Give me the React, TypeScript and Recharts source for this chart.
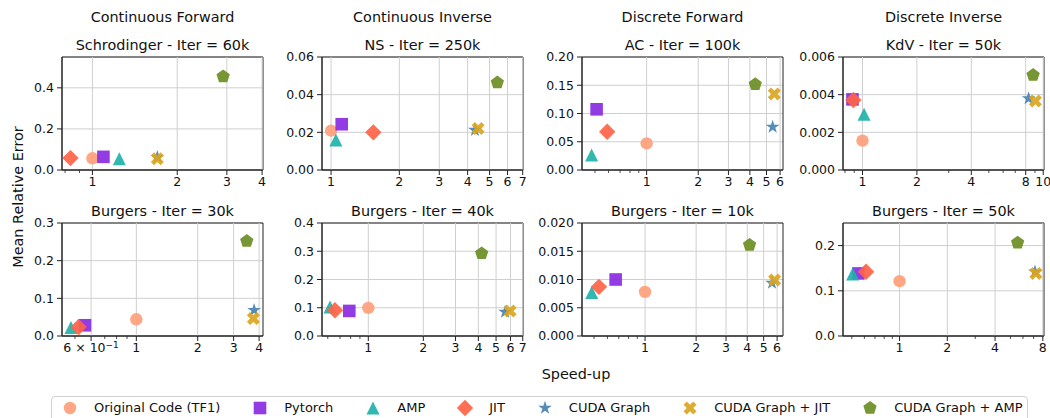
import React from "react";
import {
  ScatterChart,
  Scatter,
  XAxis,
  YAxis,
  CartesianGrid,
  ReferenceLine,
  ReferenceArea,
} from "recharts";

const FONT = "'DejaVu Sans', 'Liberation Sans', sans-serif";
const TEXT = "#111";
const AXIS = "#222";
const GRID = "#cfcfcf";

// ---- series meta (order = draw order) ----
const methods = [
  "Original Code (TF1)",
  "Pytorch",
  "AMP",
  "JIT",
  "CUDA Graph",
  "CUDA Graph + JIT",
  "CUDA Graph + AMP",
];
const methodColors = ["#FFA07A", "#8A2BE2", "#20B2AA", "#FF6347", "#4682B4", "#DAA520", "#6B8E23"];
const methodMarkers = ["circle", "square", "triangle", "diamond", "star", "x", "pentagon"];

const columnTitles = ["Continuous Forward", "Continuous Inverse", "Discrete Forward", "Discrete Inverse"];

// ---- Schrodinger - Iter = 60k ----
const schrodingerSpeedup = [1.0, 1.094, 1.246, 0.836, 1.7, 1.7, 2.91];
const schrodingerError = [0.057, 0.064, 0.055, 0.058, 0.062, 0.055, 0.455];
const schrodingerXDomain = [0.78, 4.03];
const schrodingerXTicks = [1, 2, 3, 4];
const schrodingerXTickLabels = ["1", "2", "3", "4"];
const schrodingerXMinor = [0.8, 0.9];
const schrodingerYDomain = [0, 0.55];
const schrodingerYTicks = [0, 0.2, 0.4];

// ---- NS - Iter = 250k ----
const nsSpeedup = [1.0, 1.114, 1.05, 1.536, 4.31, 4.45, 5.41];
const nsError = [0.0209, 0.0243, 0.0159, 0.02, 0.0212, 0.0221, 0.0464];
const nsXDomain = [0.912, 7.02];
const nsXTicks = [1, 2, 3, 4, 5, 6, 7];
const nsXTickLabels = ["1", "2", "3", "4", "5", "6", "7"];
const nsXMinor: number[] = [];
const nsYDomain = [0, 0.06];
const nsYTicks = [0, 0.02, 0.04, 0.06];

// ---- AC - Iter = 100k ----
const acSpeedup = [1.0, 0.511, 0.478, 0.589, 5.43, 5.55, 4.3];
const acError = [0.0472, 0.1074, 0.0265, 0.0678, 0.0761, 0.1345, 0.1517];
const acXDomain = [0.42, 6.24];
const acXTicks = [1, 2, 3, 4, 5, 6];
const acXTickLabels = ["1", "2", "3", "4", "5", "6"];
const acXMinor = [0.5, 0.6, 0.7, 0.8, 0.9];
const acYDomain = [0, 0.2];
const acYTicks = [0, 0.05, 0.1, 0.15, 0.2];

// ---- KdV - Iter = 50k ----
const kdvSpeedup = [1.0, 0.88, 1.02, 0.89, 8.3, 9.05, 8.79];
const kdvError = [0.00156, 0.00375, 0.00296, 0.00372, 0.0038, 0.00366, 0.00504];
const kdvXDomain = [0.78, 10.1];
const kdvXTicks = [1, 2, 4, 8, 10];
const kdvXTickLabels = ["1", "2", "4", "8", "10"];
const kdvXMinor = [0.8, 0.9, 3, 5, 6, 7, 9];
const kdvYDomain = [0, 0.006];
const kdvYTicks = [0, 0.002, 0.004, 0.006];

// ---- Burgers - Iter = 30k ----
const burgers30Speedup = [1.0, 0.56, 0.478, 0.521, 3.78, 3.75, 3.48];
const burgers30Error = [0.0444, 0.0285, 0.0224, 0.024, 0.0684, 0.0463, 0.252];
const burgers30XDomain = [0.432, 4.18];
const burgers30XTicks = [0.6, 1, 2, 3, 4];
const burgers30XTickLabels = ["6 × 10^−1", "1", "2", "3", "4"];
const burgers30XMinor = [0.5, 0.7, 0.8, 0.9];
const burgers30YDomain = [0, 0.3];
const burgers30YTicks = [0, 0.1, 0.2, 0.3];

// ---- Burgers - Iter = 40k ----
const burgers40Speedup = [1.0, 0.787, 0.617, 0.657, 5.6, 5.97, 4.17];
const burgers40Error = [0.0994, 0.0887, 0.103, 0.0912, 0.085, 0.0887, 0.2924];
const burgers40XDomain = [0.558, 7.02];
const burgers40XTicks = [1, 2, 3, 4, 5, 6, 7];
const burgers40XTickLabels = ["1", "2", "3", "4", "5", "6", "7"];
const burgers40XMinor = [0.6, 0.7, 0.8, 0.9];
const burgers40YDomain = [0, 0.4];
const burgers40YTicks = [0, 0.1, 0.2, 0.3, 0.4];

// ---- Burgers - Iter = 10k ----
const burgers10Speedup = [1.0, 0.671, 0.485, 0.535, 5.6, 5.8, 4.13];
const burgers10Error = [0.00781, 0.01, 0.0077, 0.0087, 0.0094, 0.0099, 0.0161];
const burgers10XDomain = [0.425, 6.5];
const burgers10XTicks = [1, 2, 3, 4, 5, 6];
const burgers10XTickLabels = ["1", "2", "3", "4", "5", "6"];
const burgers10XMinor = [0.5, 0.6, 0.7, 0.8, 0.9];
const burgers10YDomain = [0, 0.02];
const burgers10YTicks = [0, 0.005, 0.01, 0.015, 0.02];

// ---- Burgers - Iter = 50k ----
const burgers50Speedup = [1.0, 0.55, 0.506, 0.615, 7.14, 7.24, 5.55];
const burgers50Error = [0.1213, 0.1384, 0.1369, 0.142, 0.142, 0.138, 0.2063];
const burgers50XDomain = [0.44, 8.14];
const burgers50XTicks = [1, 2, 4, 8];
const burgers50XTickLabels = ["1", "2", "4", "8"];
const burgers50XMinor = [0.5, 0.6, 0.7, 0.8, 0.9, 3, 5, 6, 7];
const burgers50YDomain = [0, 0.25];
const burgers50YTicks = [0, 0.1, 0.2];

// ---- layout ----
const colLeft = [62, 322, 582, 843];
const rowTop = [57, 223];
const PLOT_W = 201;
const PLOT_H = 113;
const M_TOP = 10;

const panels = [
  { row: 0, col: 0, title: "Schrodinger - Iter = 60k", sx: schrodingerSpeedup, sy: schrodingerError, xd: schrodingerXDomain, xt: schrodingerXTicks, xl: schrodingerXTickLabels, xm: schrodingerXMinor, yd: schrodingerYDomain, yt: schrodingerYTicks, dec: 1 },
  { row: 0, col: 1, title: "NS - Iter = 250k", sx: nsSpeedup, sy: nsError, xd: nsXDomain, xt: nsXTicks, xl: nsXTickLabels, xm: nsXMinor, yd: nsYDomain, yt: nsYTicks, dec: 2 },
  { row: 0, col: 2, title: "AC - Iter = 100k", sx: acSpeedup, sy: acError, xd: acXDomain, xt: acXTicks, xl: acXTickLabels, xm: acXMinor, yd: acYDomain, yt: acYTicks, dec: 2 },
  { row: 0, col: 3, title: "KdV - Iter = 50k", sx: kdvSpeedup, sy: kdvError, xd: kdvXDomain, xt: kdvXTicks, xl: kdvXTickLabels, xm: kdvXMinor, yd: kdvYDomain, yt: kdvYTicks, dec: 3 },
  { row: 1, col: 0, title: "Burgers - Iter = 30k", sx: burgers30Speedup, sy: burgers30Error, xd: burgers30XDomain, xt: burgers30XTicks, xl: burgers30XTickLabels, xm: burgers30XMinor, yd: burgers30YDomain, yt: burgers30YTicks, dec: 1 },
  { row: 1, col: 1, title: "Burgers - Iter = 40k", sx: burgers40Speedup, sy: burgers40Error, xd: burgers40XDomain, xt: burgers40XTicks, xl: burgers40XTickLabels, xm: burgers40XMinor, yd: burgers40YDomain, yt: burgers40YTicks, dec: 1 },
  { row: 1, col: 2, title: "Burgers - Iter = 10k", sx: burgers10Speedup, sy: burgers10Error, xd: burgers10XDomain, xt: burgers10XTicks, xl: burgers10XTickLabels, xm: burgers10XMinor, yd: burgers10YDomain, yt: burgers10YTicks, dec: 3 },
  { row: 1, col: 3, title: "Burgers - Iter = 50k", sx: burgers50Speedup, sy: burgers50Error, xd: burgers50XDomain, xt: burgers50XTicks, xl: burgers50XTickLabels, xm: burgers50XMinor, yd: burgers50YDomain, yt: burgers50YTicks, dec: 1 },
];

// ---- marker shapes ----
function markerPath(kind: string, cx: number, cy: number): string {
  switch (kind) {
    case "circle": {
      const r = 6.2;
      return `M${cx - r},${cy} a${r},${r} 0 1,0 ${2 * r},0 a${r},${r} 0 1,0 ${-2 * r},0 Z`;
    }
    case "square": {
      const h = 6.3;
      return `M${cx - h},${cy - h} L${cx + h},${cy - h} L${cx + h},${cy + h} L${cx - h},${cy + h} Z`;
    }
    case "triangle": {
      const h = 6.5;
      return `M${cx},${cy - h} L${cx + h},${cy + h} L${cx - h},${cy + h} Z`;
    }
    case "diamond": {
      const d = 8.2;
      return `M${cx},${cy - d} L${cx + d},${cy} L${cx},${cy + d} L${cx - d},${cy} Z`;
    }
    case "star": {
      const R = 7.2;
      const r = R * 0.381966;
      let s = "";
      for (let i = 0; i < 10; i++) {
        const rad = i % 2 === 0 ? R : r;
        const a = -Math.PI / 2 + (i * Math.PI) / 5;
        s += `${i === 0 ? "M" : "L"}${cx + rad * Math.cos(a)},${cy + rad * Math.sin(a)} `;
      }
      return s + "Z";
    }
    case "x": {
      const S = 13;
      const pts = [
        [-0.25, -0.5], [0, -0.25], [0.25, -0.5], [0.5, -0.25], [0.25, 0], [0.5, 0.25],
        [0.25, 0.5], [0, 0.25], [-0.25, 0.5], [-0.5, 0.25], [-0.25, 0], [-0.5, -0.25],
      ];
      return pts.map((p, i) => `${i === 0 ? "M" : "L"}${cx + p[0] * S},${cy + p[1] * S}`).join(" ") + " Z";
    }
    case "pentagon": {
      const R = 7;
      let s = "";
      for (let i = 0; i < 5; i++) {
        const a = -Math.PI / 2 + (i * 2 * Math.PI) / 5;
        s += `${i === 0 ? "M" : "L"}${cx + R * Math.cos(a)},${cy + R * Math.sin(a)} `;
      }
      return s + "Z";
    }
  }
  return "";
}

const makeShape = (kind: string, color: string) => (props: any) => {
  const { cx, cy } = props;
  if (cx == null || cy == null) return <g />;
  return <path d={markerPath(kind, cx, cy)} fill={color} fillOpacity={0.92} />;
};

const makeXTick = (labeled: number[], labels: string[]) => (props: any) => {
  const { x, y, payload } = props;
  const v = payload.value;
  const idx = labeled.findIndex((t) => Math.abs(t - v) < 1e-9);
  const major = idx >= 0;
  const label = major ? labels[idx] : "";
  let content: React.ReactNode = label;
  if (label.includes("^")) {
    const [base, exp] = label.split("^");
    content = (
      <>
        {base}
        <tspan dy="-0.5em" fontSize={9}>{exp}</tspan>
      </>
    );
  }
  return (
    <g>
      <line x1={x} x2={x} y1={y} y2={y + (major ? 5 : 3)} stroke={AXIS} strokeWidth={major ? 1 : 0.8} />
      {major && (
        <text x={x} y={y + 7} dy="0.75em" textAnchor="middle" fontSize={12.5} fill={TEXT} fontFamily={FONT}>
          {content}
        </text>
      )}
    </g>
  );
};

function Panel({ p }: { p: any }) {
  const left = colLeft[p.col];
  const top = rowTop[p.row];
  return (
    <div style={{ position: "absolute", left: left - 60, top: top - M_TOP }}>
      <ScatterChart
        width={PLOT_W + 60 + 10}
        height={PLOT_H + M_TOP + 30}
        margin={{ top: M_TOP, right: 10, bottom: 0, left: 10 }}
      >
        <CartesianGrid vertical={false} stroke={GRID} strokeWidth={1} />
        {p.xt.map((v: number) => (
          <ReferenceLine key={"g" + v} x={v} stroke={GRID} strokeWidth={1} ifOverflow="hidden" />
        ))}
        <XAxis
          type="number"
          dataKey="x"
          scale="log"
          domain={p.xd}
          allowDataOverflow
          ticks={[...p.xt, ...p.xm]}
          interval={0}
          tick={makeXTick(p.xt, p.xl)}
          tickLine={false}
          tickSize={0}
          tickMargin={0}
          height={30}
          axisLine={{ stroke: AXIS }}
        />
        <YAxis
          type="number"
          dataKey="y"
          domain={p.yd}
          allowDataOverflow
          ticks={p.yt}
          interval={0}
          tickFormatter={(v: number) => v.toFixed(p.dec)}
          width={50}
          tick={{ fontSize: 12.5, fill: TEXT, fontFamily: FONT }}
          tickSize={5}
          tickMargin={3}
          axisLine={{ stroke: AXIS }}
          tickLine={{ stroke: AXIS }}
        />
        <ReferenceArea
          x1={p.xd[0]}
          x2={p.xd[1]}
          y1={p.yd[0]}
          y2={p.yd[1]}
          fill="none"
          fillOpacity={0}
          stroke={AXIS}
          strokeWidth={1}
          ifOverflow="visible"
        />
        {methods.map((m, i) => (
          <Scatter
            key={m}
            name={m}
            data={[{ x: p.sx[i], y: p.sy[i] }]}
            shape={makeShape(methodMarkers[i], methodColors[i])}
            isAnimationActive={false}
          />
        ))}
      </ScatterChart>
    </div>
  );
}

const titleStyle = (left: number, centerY: number, width: number): React.CSSProperties => ({
  position: "absolute",
  left,
  top: centerY - 9,
  width,
  height: 18,
  lineHeight: "18px",
  textAlign: "center",
  fontSize: 14.4,
  fontFamily: FONT,
  color: TEXT,
  whiteSpace: "nowrap",
});

export default function App() {
  return (
    <div
      style={{
        position: "absolute",
        left: 0,
        top: 0,
        width: 1050,
        height: 418,
        overflow: "hidden",
        background: "#fff",
        fontFamily: FONT,
      }}
    >
      {panels.map((p) => (
        <Panel key={"p" + p.title + p.col} p={p} />
      ))}
      {columnTitles.map((t, i) => (
        <div key={t} style={titleStyle(colLeft[i] - 40, 17, PLOT_W + 80)}>{t}</div>
      ))}
      {panels.map((p) => (
        <div key={p.title + p.col} style={titleStyle(colLeft[p.col] - 40, rowTop[p.row] - 12.5, PLOT_W + 80)}>
          {p.title}
        </div>
      ))}
      <div style={titleStyle(476, 374, 200)}>Speed-up</div>
      <div
        style={{
          position: "absolute",
          left: 18 - 100,
          top: 197 - 9,
          width: 200,
          height: 18,
          lineHeight: "18px",
          textAlign: "center",
          fontSize: 14.4,
          fontFamily: FONT,
          color: TEXT,
          transform: "rotate(-90deg)",
          whiteSpace: "nowrap",
        }}
      >
        Mean Relative Error
      </div>
      <div
        style={{
          position: "absolute",
          left: 51,
          top: 396,
          width: 977,
          height: 30,
          border: "1px solid #d0d0d0",
          borderRadius: 4,
          boxSizing: "border-box",
          display: "flex",
          alignItems: "flex-start",
          paddingLeft: 12,
          paddingTop: 1,
          fontSize: 13,
          fontFamily: FONT,
          color: TEXT,
        }}
      >
        {methods.map((m, i) => (
          <div key={m} style={{ display: "flex", alignItems: "center", marginRight: 34, height: 20 }}>
            <svg width={12} height={20} style={{ overflow: "visible" }}>
              <path d={markerPath(methodMarkers[i], 6, 10)} fill={methodColors[i]} fillOpacity={0.92} />
            </svg>
            <span style={{ marginLeft: 18, whiteSpace: "nowrap", lineHeight: "20px" }}>{m}</span>
          </div>
        ))}
      </div>
    </div>
  );
}
